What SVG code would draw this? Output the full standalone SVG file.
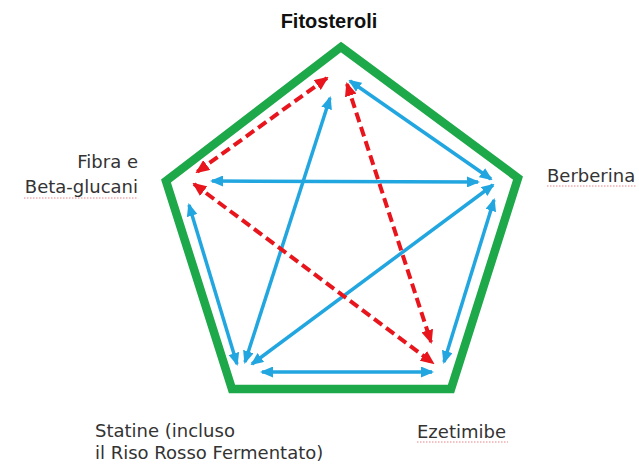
<svg xmlns="http://www.w3.org/2000/svg" width="639" height="465" viewBox="0 0 639 465">
<defs>
<marker id="ab" viewBox="0 0 13 11" refX="11" refY="5.5" markerWidth="13" markerHeight="11" markerUnits="userSpaceOnUse" orient="auto-start-reverse"><path d="M0,0 L13,5.5 L0,11 z" fill="#22a6e0"/></marker>
<marker id="ar" viewBox="0 0 14 12" refX="12" refY="6" markerWidth="14" markerHeight="12" markerUnits="userSpaceOnUse" orient="auto-start-reverse"><path d="M0,0 L14,6 L0,12 z" fill="#e8151d"/></marker>
</defs>
<style>
.lbl{font-family:"DejaVu Sans",sans-serif;font-size:18px;fill:#333}
.ttl{font-family:"Liberation Sans",Arial,sans-serif;font-size:20px;font-weight:bold;fill:#111}
.sq{stroke:#d8343a;stroke-width:1;stroke-dasharray:1.5 1.5;opacity:0.6;fill:none}
.b{stroke:#22a6e0;stroke-width:3.5;fill:none;marker-start:url(#ab);marker-end:url(#ab)}
.r{stroke:#e8151d;stroke-width:4;stroke-dasharray:10 5;fill:none;marker-start:url(#ar);marker-end:url(#ar)}
</style>
<rect width="639" height="465" fill="#fff"/>
<g id="pentagon"><polygon points="341,47 518,178 451,389 232,389 166,181" fill="none" stroke="#1da84a" stroke-width="8.5" stroke-linejoin="miter"/></g>
<g id="connectors">
<line class="b" x1="350" y1="81" x2="491" y2="179"/>
<line class="b" x1="212" y1="181" x2="478" y2="182"/>
<line class="b" x1="493" y1="185" x2="252" y2="364"/>
<line class="b" x1="494" y1="200" x2="444" y2="362"/>
<line class="b" x1="330" y1="98" x2="245" y2="362"/>
<line class="b" x1="189" y1="205" x2="237" y2="364"/>
<line class="b" x1="262" y1="372" x2="432" y2="372"/>
<line class="r" x1="327" y1="78" x2="197" y2="172"/>
<line class="r" x1="194" y1="184" x2="433" y2="363"/>
<line class="r" x1="347" y1="84" x2="431" y2="342"/>
</g>
<g id="fitosteroli"><text class="ttl" x="329" y="28" text-anchor="middle">Fitosteroli</text></g>
<g id="fibra"><text class="lbl" x="138" y="168" text-anchor="end">Fibra e</text><text class="lbl" x="138" y="193" text-anchor="end">Beta-glucani</text><path class="sq" d="M24,198 L138,198"/></g>
<g id="berberina"><text class="lbl" x="547" y="182">Berberina</text><path class="sq" d="M547,186 L637,186"/></g>
<g id="ezetimibe"><text class="lbl" x="417" y="438">Ezetimibe</text><path class="sq" d="M417,442 L508,442"/></g>
<g id="statine"><text class="lbl" x="95" y="437">Statine (incluso</text><text class="lbl" x="95" y="459">il Riso Rosso Fermentato)</text></g>
</svg>
